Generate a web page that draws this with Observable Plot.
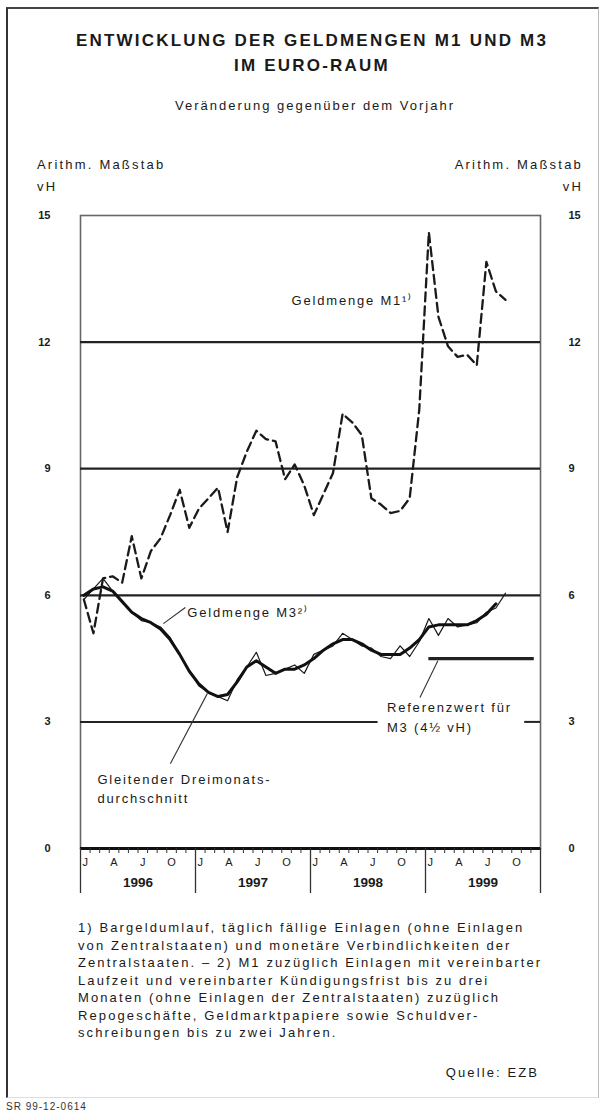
<!DOCTYPE html>
<html><head><meta charset="utf-8">
<script src="https://cdn.jsdelivr.net/npm/d3@7"></script>
<script src="https://cdn.jsdelivr.net/npm/@observablehq/plot@0.6"></script>
<style>
body{margin:0;background:#fff;font-family:"Liberation Sans",Arial,sans-serif;color:#1a1a1a}
#page{position:relative;width:607px;height:1117px;overflow:hidden;background:#fff}
.abs{position:absolute;white-space:nowrap;line-height:20px}
#box{position:absolute;left:6px;top:7px;width:590px;height:1088px;border-left:2px solid #333;border-top:2px solid #444;border-right:1px solid #bbb;border-bottom:1px solid #ddd}
#chart{position:absolute;left:0;top:150px}
#chart g[aria-label="text"] text{letter-spacing:1.8px}
.title{left:0;width:624px;text-align:center;font-weight:bold;font-size:17px;letter-spacing:2.2px}
.sub{left:0;width:630px;text-align:center;font-size:13px;letter-spacing:2px}
.ax{font-size:13px;letter-spacing:2.2px}
.fn{left:78px;font-size:13px;letter-spacing:2.1px}
</style></head><body><div id="page">
<div id="box"></div>
<div class="abs title" style="top:31px">ENTWICKLUNG DER GELDMENGEN M1 UND M3</div>
<div class="abs title" style="top:56px">IM EURO-RAUM</div>
<div class="abs sub" style="top:96px">Veränderung gegenüber dem Vorjahr</div>
<div class="abs ax" style="left:37px;top:155px">Arithm. Maßstab</div>
<div class="abs ax" style="left:37px;top:177px">vH</div>
<div class="abs ax" style="right:24px;top:155px;text-align:right">Arithm. Maßstab</div>
<div class="abs ax" style="right:24px;top:177px;text-align:right">vH</div>
<div id="chart"></div>
<div id="notes"></div>
</div>
<script>
// Monatsangaben Jan 1996 – Sep 1999
const months = d3.range(45).map(i => `${1996 + Math.floor(i / 12)}-${String(i % 12 + 1).padStart(2, "0")}`);
// Geldmenge M1, Veränderung gegenüber Vorjahr in vH
const m1 = [5.9, 5.1, 6.4, 6.45, 6.3, 7.4, 6.4, 7.05, 7.35, 7.9, 8.5, 7.6,
            8.05, 8.3, 8.55, 7.5, 8.8, 9.4, 9.9, 9.7, 9.65, 8.75, 9.1, 8.6,
            7.9, 8.4, 8.9, 10.3, 10.1, 9.8, 8.3, 8.15, 7.95, 8.0, 8.3, 10.4,
            14.6, 12.6, 11.9, 11.65, 11.7, 11.45, 13.9, 13.2, 13.0];
// Geldmenge M3
const m3 = [5.9, 6.15, 6.4, 6.1, 5.85, 5.6, 5.4, 5.35, 5.25, 5.0, 4.6, 4.2,
            3.85, 3.7, 3.6, 3.5, 4.0, 4.3, 4.65, 4.1, 4.15, 4.25, 4.35, 4.15,
            4.6, 4.7, 4.8, 5.1, 4.95, 4.8, 4.75, 4.55, 4.5, 4.8, 4.55, 4.9,
            5.45, 5.05, 5.45, 5.25, 5.3, 5.35, 5.6, 5.7, 6.05];
// Gleitender Dreimonatsdurchschnitt M3 (Jan 1996 – Aug 1999)
const m3avg = [6.0, 6.15, 6.2, 6.1, 5.85, 5.6, 5.45, 5.35, 5.2, 4.95, 4.6, 4.2,
               3.9, 3.7, 3.6, 3.65, 3.95, 4.3, 4.45, 4.3, 4.15, 4.25, 4.25, 4.35,
               4.5, 4.7, 4.85, 4.95, 4.95, 4.85, 4.7, 4.6, 4.6, 4.6, 4.75, 4.95,
               5.25, 5.3, 5.3, 5.3, 5.3, 5.4, 5.55, 5.8];
// Referenzwert für M3 (1999)
const refFrom = 36, refTo = 47, refValue = 4.5;
const yTicks = [0, 3, 6, 9, 12, 15];
const gridLines = [6, 9, 12];
const monthLetters = ["J", "A", "J", "O"];
const years = ["1996", "1997", "1998", "1999"];

const inMonth = 0.35; // Lage des Monatswerts innerhalb des Monats
const rows = months.map((m, i) => ({t: i + inMonth, m1: m1[i], m3: m3[i], avg: m3avg[i]}));

const labelsEnd = [
  {x: 34.7, y: 13.03, text: "Geldmenge M1¹⁾"}
];
const labelsStart = [
  {x: 11.15, y: 5.64, text: "Geldmenge M3²⁾"},
  {x: 1.77, y: 1.45, text: "Gleitender Dreimonats-\ndurchschnitt"},
  {x: 31.98, y: 3.15, text: "Referenzwert für\nM3 (4½ vH)"}
];
const leaders = [
  {x1: 8.65, y1: 5.33, x2: 10.94, y2: 5.71},
  {x1: 9.375, y1: 2.01, x2: 13.23, y2: 3.67},
  {x1: 35.42, y1: 3.58, x2: 37.29, y2: 4.45}
];
const gap3 = [{x1: 0, x2: 31.05}, {x1: 46.35, x2: 48}];

const monthTicks = d3.range(0, 49);
const quarterCenters = d3.range(0, 48, 3).map(i => i + 0.5);
const yearTicks = [0, 12, 24, 36, 48];
const yearCenters = [6, 18, 30, 42];

const plot = Plot.plot({
  width: 607,
  height: 760,
  marginLeft: 80,
  marginRight: 67,
  marginTop: 65,
  marginBottom: 62,
  style: {fontFamily: "'Liberation Sans', Arial, sans-serif", color: "#1a1a1a", background: "transparent"},
  x: {domain: [0, 48], axis: null},
  y: {domain: [0, 15], axis: null},
  marks: [
    Plot.frame({stroke: "#666", strokeWidth: 1.6}),
    Plot.ruleY(gridLines, {stroke: "#222", strokeWidth: 2.2}),
    Plot.ruleY(gap3, {y: () => 3, x1: "x1", x2: "x2", stroke: "#222", strokeWidth: 2}),
    Plot.ruleY([refValue], {x1: refFrom + inMonth, x2: refTo + inMonth, stroke: "#222", strokeWidth: 3.2}),
    Plot.link(leaders, {x1: "x1", y1: "y1", x2: "x2", y2: "y2", stroke: "#333", strokeWidth: 1.1}),
    Plot.lineY(rows, {x: "t", y: "m1", stroke: "#1a1a1a", strokeWidth: 2.3, strokeDasharray: "9,5"}),
    Plot.lineY(rows, {x: "t", y: "m3", stroke: "#1a1a1a", strokeWidth: 1.2}),
    Plot.lineY(rows.filter(d => d.avg != null), {x: "t", y: "avg", stroke: "#111", strokeWidth: 3}),
    Plot.text(labelsEnd, {x: "x", y: "y", text: "text", textAnchor: "end", fontSize: 13, lineHeight: 1.5, fill: "#1a1a1a"}),
    Plot.text(labelsStart, {x: "x", y: "y", text: "text", textAnchor: "start", fontSize: 13, lineHeight: 1.5, fill: "#1a1a1a"}),
    Plot.ruleY([0], {stroke: "#111", strokeWidth: 3}),
    Plot.axisY(yTicks, {anchor: "left", tickSize: 0, tickPadding: 30, fontSize: 11, fontWeight: "bold", label: null}),
    Plot.axisY(yTicks, {anchor: "right", tickSize: 0, tickPadding: 28, fontSize: 11, fontWeight: "bold", label: null}),
    Plot.axisX(monthTicks, {tickSize: 5, tickFormat: () => "", label: null, stroke: "#333"}),
    Plot.axisX(quarterCenters, {tickSize: 0, tickPadding: 10, fontSize: 11, tickFormat: (d, i) => monthLetters[i % 4], label: null}),
    Plot.axisX(yearTicks, {tickSize: 45, tickFormat: () => "", label: null, stroke: "#333", strokeWidth: 1.3}),
    Plot.axisX(yearCenters, {tickSize: 0, tickPadding: 29, fontSize: 13.5, fontWeight: "bold", tickFormat: (d, i) => years[i], label: null})
  ]
});
document.getElementById("chart").appendChild(plot);

const notes = [
  "1) Bargeldumlauf, täglich fällige Einlagen (ohne Einlagen",
  "von Zentralstaaten) und monetäre Verbindlichkeiten der",
  "Zentralstaaten. – 2) M1 zuzüglich Einlagen mit vereinbarter",
  "Laufzeit und vereinbarter Kündigungsfrist bis zu drei",
  "Monaten (ohne Einlagen der Zentralstaaten) zuzüglich",
  "Repogeschäfte, Geldmarktpapiere sowie Schuldver-",
  "schreibungen bis zu zwei Jahren."
];
const notesDiv = document.getElementById("notes");
notes.forEach((t, i) => {
  const d = document.createElement("div");
  d.className = "abs fn";
  d.style.top = (918 + i * 17.5) + "px";
  d.textContent = t;
  notesDiv.appendChild(d);
});
const src = document.createElement("div");
src.className = "abs fn";
src.style.left = "auto"; src.style.right = "68px"; src.style.top = "1063px";
src.textContent = "Quelle: EZB";
notesDiv.appendChild(src);
const code = document.createElement("div");
code.className = "abs";
code.style.cssText = "left:6px;top:1097px;font-size:10px;letter-spacing:1px;color:#333";
code.textContent = "SR 99-12-0614";
notesDiv.appendChild(code);
</script></body></html>
